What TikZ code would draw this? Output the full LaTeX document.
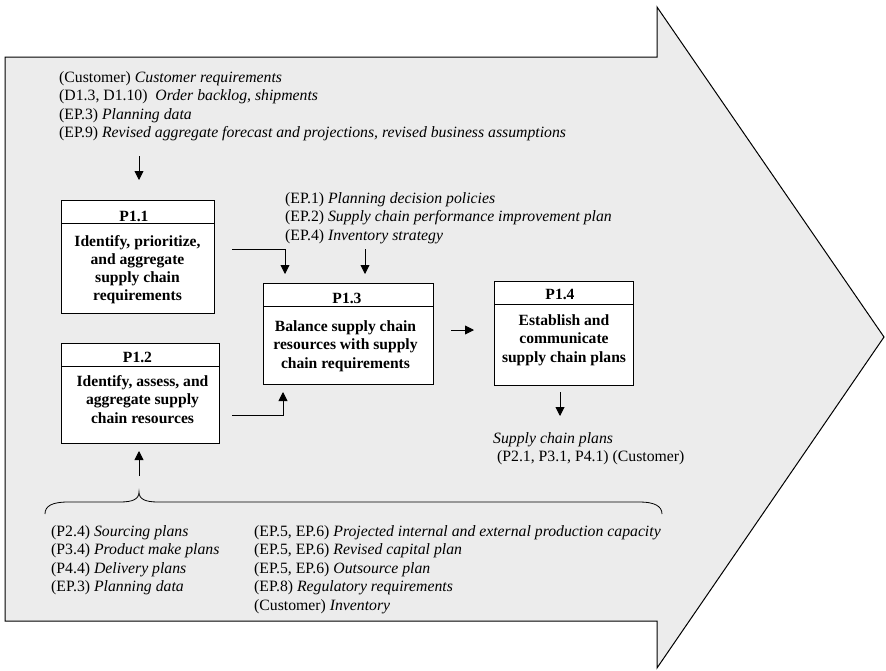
\documentclass[tikz,border=0pt]{standalone}
\usepackage{fontspec}
\setmainfont{Liberation Serif}
\usetikzlibrary{arrows.meta}
\definecolor{arrowgray}{RGB}{236,236,236}
\begin{document}
\begin{tikzpicture}[x=1pt,y=-1pt,
  conn/.style={line width=0.9pt, -{Triangle[length=9pt,width=9pt]}},
  pbox/.style={draw, line width=1pt, fill=white, inner sep=0pt, anchor=north west},
  plain/.style={inner sep=0pt, anchor=base west, font=\fontsize{15.75}{18.5}\selectfont},
  btext/.style={inner sep=0pt, anchor=base, font=\fontsize{15.6}{18.3}\selectfont\bfseries}
]
\useasboundingbox (0,0) rectangle (886,670);
% big arrow
\draw[fill=arrowgray, line width=1pt, line join=miter]
  (5,57) -- (657,57) -- (657,7) -- (884,337) -- (657,668) -- (657,621) -- (5,621) -- cycle;

% boxes
\node[pbox, minimum width=153pt, minimum height=23pt] (p11h) at (61,200) {};
\node[pbox, minimum width=153pt, minimum height=90pt] (p11) at (61,223) {};
\node[pbox, minimum width=158pt, minimum height=23pt] (p12h) at (61,343) {};
\node[pbox, minimum width=158pt, minimum height=77pt] (p12) at (61,366) {};
\node[pbox, minimum width=170pt, minimum height=23pt] (p13h) at (263,283) {};
\node[pbox, minimum width=170pt, minimum height=78pt] (p13) at (263,306) {};
\node[pbox, minimum width=139pt, minimum height=23pt] (p14h) at (494,281) {};
\node[pbox, minimum width=139pt, minimum height=81pt] (p14) at (494,304) {};

% box texts
\node[btext] (t11h) at (134,221.5) {P1.1};
\node[btext] (t11) at (137.5,246) {\begin{tabular}[t]{@{}c@{}}Identify, prioritize,\\and aggregate\\supply chain\\requirements\end{tabular}};
\node[btext] (t12h) at (137.5,362.5) {P1.2};
\node[btext] (t12) at (142.5,386.5) {\begin{tabular}[t]{@{}c@{}}Identify, assess, and\\aggregate supply\\chain resources\end{tabular}};
\node[btext] (t13h) at (347,303.5) {P1.3};
\node[btext] (t13) at (345.5,331.5) {\begin{tabular}[t]{@{}c@{}}Balance supply chain\\resources with supply\\chain requirements\end{tabular}};
\node[btext] (t14h) at (560,299.5) {P1.4};
\node[btext] (t14) at (564,325.5) {\begin{tabular}[t]{@{}c@{}}Establish and\\communicate\\supply chain plans\end{tabular}};

% text blocks
\node[plain] (intop) at (59,82) {\begin{tabular}[t]{@{}l@{}}(Customer) \textit{Customer requirements}\\(D1.3, D1.10)\ \ \textit{Order backlog, shipments}\\(EP.3) \textit{Planning data}\\(EP.9) \textit{Revised aggregate forecast and projections, revised business assumptions}\end{tabular}};
\node[plain] (inep) at (285,203) {\begin{tabular}[t]{@{}l@{}}(EP.1) \textit{Planning decision policies}\\(EP.2) \textit{Supply chain performance improvement plan}\\(EP.4) \textit{Inventory strategy}\end{tabular}};
\node[plain] (outp) at (493,443) {\begin{tabular}[t]{@{}l@{}}\textit{Supply chain plans}\\\ (P2.1, P3.1, P4.1) (Customer)\end{tabular}};
\node[plain] (inbl) at (51,536) {\begin{tabular}[t]{@{}l@{}}(P2.4) \textit{Sourcing plans}\\(P3.4) \textit{Product make plans}\\(P4.4) \textit{Delivery plans}\\(EP.3) \textit{Planning data}\end{tabular}};
\node[plain] (inbr) at (254,536) {\begin{tabular}[t]{@{}l@{}}(EP.5, EP.6) \textit{Projected internal and external production capacity}\\(EP.5, EP.6) \textit{Revised capital plan}\\(EP.5, EP.6) \textit{Outsource plan}\\(EP.8) \textit{Regulatory requirements}\\(Customer) \textit{Inventory}\end{tabular}};

% brace
\draw[line width=0.8pt] (45,514) .. controls (45,506) and (52,502) .. (68,502) -- (120,502)
  .. controls (133,502) and (139,499) .. (139,492) .. controls (139,499) and (145,502) .. (158,502)
  -- (640,502) .. controls (654,502) and (662,506) .. (662,514);

% connector end points
\coordinate (a0s) at (139,156);
\coordinate (a0e) at (139,180);
\coordinate (a1s) at (232,249);
\coordinate (a1e) at (285,274);
\coordinate (a2s) at (365,249);
\coordinate (a2e) at (365,274);
\coordinate (a3s) at (232,415);
\coordinate (a3e) at (283,392);
\coordinate (a4s) at (451,330);
\coordinate (a4e) at (474,330);
\coordinate (a5s) at (560,392);
\coordinate (a5e) at (560,416);
\coordinate (a6s) at (139,476);
\coordinate (a6e) at (139,451);

\draw[conn] (a0s) -- (a0e);
\draw[conn] (a1s) -| (a1e);
\draw[conn] (a2s) -- (a2e);
\draw[conn] (a3s) -| (a3e);
\draw[conn] (a4s) -- (a4e);
\draw[conn] (a5s) -- (a5e);
\draw[conn] (a6s) -- (a6e);
\end{tikzpicture}
\end{document}
